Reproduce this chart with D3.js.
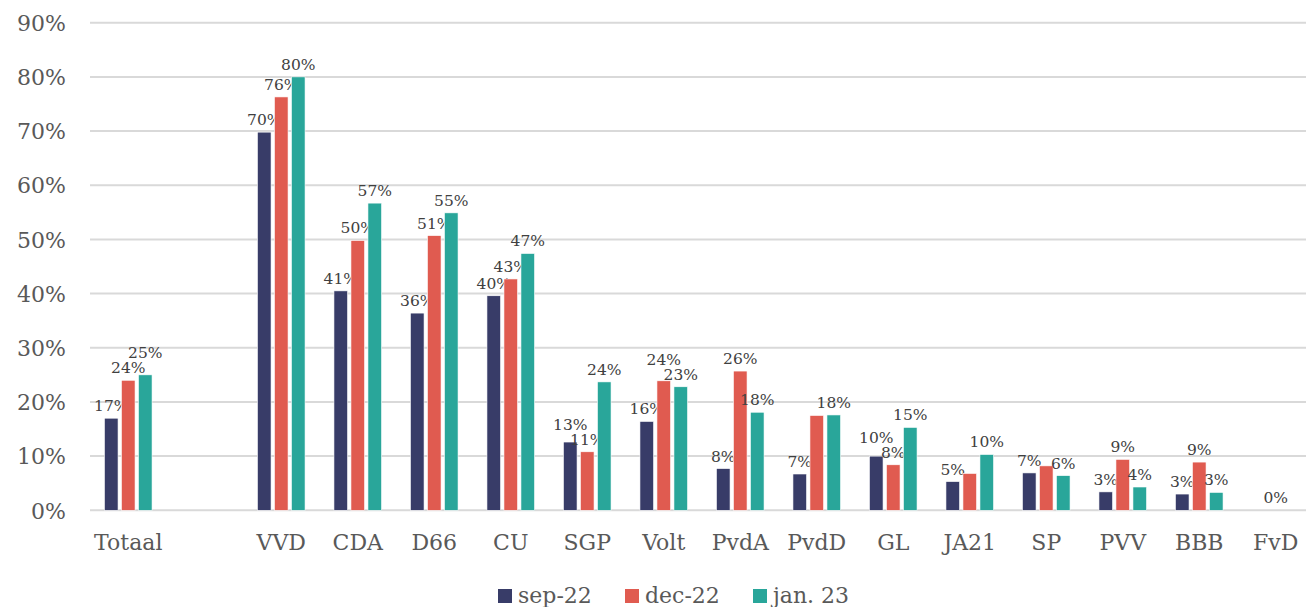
<!DOCTYPE html>
<html>
<head>
<meta charset="utf-8">
<script src="https://cdn.jsdelivr.net/npm/d3@7"></script>
<style>
  html, body { margin: 0; padding: 0; background: #ffffff; }
  svg { display: block; }
</style>
</head>
<body>
<svg id="chart" width="1306" height="607"></svg>
<script>
const categories = ["Totaal", "", "VVD", "CDA", "D66", "CU", "SGP", "Volt", "PvdA", "PvdD", "GL", "JA21", "SP", "PVV", "BBB", "FvD"];
const seriesNames = ["sep-22", "dec-22", "jan. 23"];
const sep22 = [0.170, null, 0.698, 0.405, 0.364, 0.396, 0.126, 0.164, 0.077, 0.067, 0.100, 0.053, 0.069, 0.034, 0.030, 0.0];
const dec22 = [0.240, null, 0.763, 0.498, 0.507, 0.427, 0.108, 0.239, 0.257, 0.175, 0.084, 0.068, 0.082, 0.094, 0.089, 0.0];
const jan23 = [0.250, null, 0.800, 0.567, 0.549, 0.474, 0.237, 0.228, 0.181, 0.176, 0.153, 0.103, 0.064, 0.043, 0.033, 0.0];
const yTicks = [0, 0.1, 0.2, 0.3, 0.4, 0.5, 0.6, 0.7, 0.8, 0.9];
// data labels not shown in the original (series index : category)
const hiddenLabels = ["1:PvdD", "1:JA21", "1:SP", "0:FvD", "2:FvD"];

const colors = ["#383c68", "#e05b50", "#29a69a"];
const series = [sep22, dec22, jan23];

const svg = d3.select("#chart");
const font = "'DejaVu Serif', 'Liberation Serif', serif";

const x = d3.scaleBand().domain(categories.map((c, i) => i)).range([90, 1314]);
const xs = d3.scaleBand().domain([0, 1, 2]).range([0, x.bandwidth()]).paddingInner(0.2).paddingOuter(0.85);
const y = d3.scaleLinear().domain([0, 0.9]).range([510.3, 22.7]);

// gridlines
svg.append("g")
  .selectAll("line")
  .data(yTicks)
  .join("line")
  .attr("x1", 90).attr("x2", 1306)
  .attr("y1", d => y(d)).attr("y2", d => y(d))
  .attr("stroke", "#d9d9d9").attr("stroke-width", 2);

// y axis labels
const yAxis = d3.axisLeft(y).tickValues(yTicks).tickFormat(d3.format(".0%")).tickSize(0).tickPadding(0);
const yg = svg.append("g").attr("transform", "translate(66,0)").call(yAxis);
yg.select(".domain").remove();
yg.selectAll("text").attr("font-family", font).attr("font-size", 22).attr("fill", "#595959").attr("dy", "0.35em");

// x axis labels
const xAxis = d3.axisBottom(x).tickFormat(i => categories[i]).tickSize(0).tickPadding(0);
const xg = svg.append("g").attr("transform", "translate(0,534)").call(xAxis);
xg.select(".domain").remove();
xg.selectAll("text").attr("font-family", font).attr("font-size", 22).attr("fill", "#595959").attr("dy", "0.71em");

// bars
const fmt = d3.format(".0%");
const labelNodes = [];
series.forEach((vals, s) => {
  const g = svg.append("g");
  const data = vals.map((v, i) => ({v, i, s})).filter(d => d.v !== null);
  g.selectAll("rect")
    .data(data)
    .join("rect")
    .attr("x", d => x(d.i) + xs(s))
    .attr("width", xs.bandwidth())
    .attr("y", d => y(d.v))
    .attr("height", d => y(0) - y(d.v))
    .attr("fill", colors[s])
    .attr("stroke", "#ffffff").attr("stroke-width", 0.6);
  g.selectAll("text")
    .data(data.filter(d => !hiddenLabels.includes(s + ":" + categories[d.i])))
    .join("text")
    .attr("x", d => x(d.i) + xs(s) + xs.bandwidth() / 2)
    .attr("y", d => y(d.v) - 7)
    .attr("text-anchor", "middle")
    .attr("font-family", font).attr("font-size", 15.5).attr("fill", "#404040")
    .text(d => fmt(d.v))
    .each(function(d) { labelNodes.push({node: this, d, yy: y(d.v) - 7}); });
});

// resolve label overlaps inside a group by lifting the higher label
categories.forEach((c, i) => {
  const labs = labelNodes.filter(l => l.d.i === i);
  labs.forEach(l => { const b = l.node.getBBox(); l.x0 = b.x; l.x1 = b.x + b.width; l.h = b.height - 3; });
  for (let pass = 0; pass < 6; pass++) {
    for (let a = 0; a < labs.length; a++) {
      for (let b = a + 1; b < labs.length; b++) {
        const A = labs[a], B = labs[b];
        const hOverlap = A.x1 > B.x0 + 1 && B.x1 > A.x0 + 1;
        const dy = Math.abs(A.yy - B.yy);
        if (hOverlap && dy < A.h) {
          const upper = A.yy <= B.yy ? A : B;
          const lower = upper === A ? B : A;
          upper.yy = lower.yy - A.h;
        }
      }
    }
  }
  labs.forEach(l => d3.select(l.node).attr("y", l.yy));
});

// legend
const legendX = [498, 625, 753];
const lg = svg.append("g");
seriesNames.forEach((name, s) => {
  lg.append("rect").attr("x", legendX[s]).attr("y", 589).attr("width", 14).attr("height", 14).attr("fill", colors[s]);
  lg.append("text").attr("x", legendX[s] + 20).attr("y", 603)
    .attr("font-family", font).attr("font-size", 22).attr("fill", "#595959").text(name);
});
</script>
</body>
</html>
